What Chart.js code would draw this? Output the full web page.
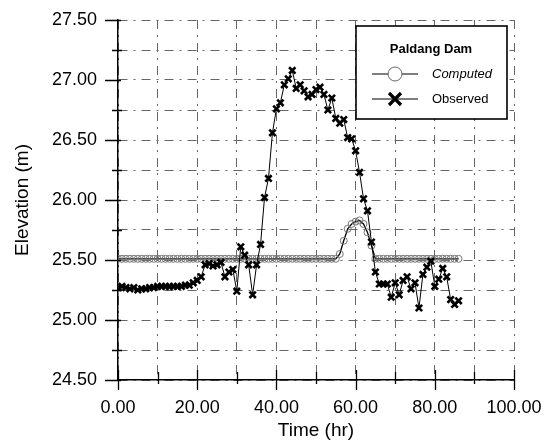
<!DOCTYPE html>
<html>
<head>
<meta charset="utf-8">
<script src="https://cdn.jsdelivr.net/npm/chart.js@4.4.1/dist/chart.umd.min.js"></script>
<style>
  html, body { margin: 0; padding: 0; background: #fff; }
  #wrap { width: 548px; height: 442px; }
</style>
</head>
<body>
<div id="wrap"><canvas id="myChart" width="548" height="442"></canvas></div>
<script>
// hours (hr)
var hours = [0,1,2,3,4,5,6,7,8,9,10,11,12,13,14,15,16,17,18,19,20,
  21,22,23,24,25,26,27,28,29,30,31,32,33,34,35,36,37,38,39,40,
  41,42,43,44,45,46,47,48,49,50,51,52,53,54,55,56,57,58,59,60,
  61,62,63,64,65,66,67,68,69,70,71,72,73,74,75,76,77,78,79,80,
  81,82,83,84,85,86];

// water level at Paldang Dam (m)
var computed = [25.51,25.51,25.51,25.51,25.51,25.51,25.51,25.51,25.51,25.51,25.51,
  25.51,25.51,25.51,25.51,25.51,25.51,25.51,25.51,25.51,25.51,
  25.51,25.51,25.51,25.51,25.51,25.51,25.51,25.51,25.51,25.51,
  25.51,25.51,25.51,25.51,25.51,25.51,25.51,25.51,25.51,25.51,
  25.51,25.51,25.51,25.51,25.51,25.51,25.51,25.51,25.51,25.51,
  25.51,25.51,25.51,25.51,25.51,25.55,25.66,25.76,25.80,25.82,
  25.83,25.80,25.73,25.62,25.51,25.51,25.51,25.51,25.51,25.51,
  25.51,25.51,25.51,25.51,25.51,25.51,25.51,25.51,25.51,25.51,
  25.51,25.51,25.51,25.51,25.51,25.51];

var observed = [25.27,25.28,25.27,25.26,25.27,25.25,25.26,25.26,25.27,25.27,25.28,
  25.28,25.28,25.28,25.28,25.28,25.28,25.29,25.29,25.31,25.33,
  25.36,25.46,25.47,25.45,25.46,25.48,25.36,25.40,25.42,25.24,
  25.61,25.54,25.46,25.21,25.46,25.63,26.02,26.18,26.56,26.76,
  26.81,26.96,27.01,27.08,26.93,26.96,26.91,26.86,26.88,26.92,
  26.94,26.88,26.75,26.85,26.68,26.64,26.67,26.52,26.51,26.41,
  26.23,26.01,25.91,25.65,25.40,25.30,25.30,25.30,25.19,25.31,
  25.21,25.33,25.36,25.26,25.31,25.10,25.38,25.44,25.49,25.28,
  25.34,25.43,25.36,25.17,25.13,25.16];

var xTicks = ["0.00","20.00","40.00","60.00","80.00","100.00"];
var yTicks = ["24.50","25.00","25.50","26.00","26.50","27.00","27.50"];

var fontName = "'Liberation Sans', Arial, sans-serif";

function pts(vals){
  var out = [];
  for (var i = 0; i < hours.length; i++) out.push({x: hours[i], y: vals[i]});
  return out;
}

// tick marks crossing the axes
var tickMarks = {
  id: 'tickMarks',
  afterDraw: function(chart){
    var ctx = chart.ctx, a = chart.chartArea, x = chart.scales.x, y = chart.scales.y;
    ctx.save();
    ctx.strokeStyle = '#000';
    ctx.lineWidth = 1.3;
    ctx.beginPath();
    x.ticks.forEach(function(t){
      var px = Math.round(x.getPixelForValue(t.value)) + 0.5;
      var major = Math.abs(t.value % 20) < 1e-6;
      ctx.moveTo(px, a.bottom - (major ? 10 : 8));
      ctx.lineTo(px, a.bottom + (major ? 10 : 4));
    });
    y.ticks.forEach(function(t){
      var py = Math.round(y.getPixelForValue(t.value)) + 0.5;
      var major = Math.abs(t.value * 2 - Math.round(t.value * 2)) < 1e-6;
      ctx.moveTo(a.left - (major ? 13 : 6), py);
      ctx.lineTo(a.left + (major ? 3 : 4), py);
    });
    ctx.stroke();
    ctx.restore();
  }
};

// boxed legend in the top right corner
var boxLegend = {
  id: 'boxLegend',
  afterDraw: function(chart){
    var ctx = chart.ctx;
    var bx = 356, by = 26, bw = 151, bh = 93;
    ctx.save();
    ctx.fillStyle = '#fff';
    ctx.fillRect(bx, by, bw, bh);
    ctx.strokeStyle = '#000';
    ctx.lineWidth = 1.6;
    ctx.strokeRect(bx, by, bw, bh);

    ctx.fillStyle = '#000';
    ctx.textBaseline = 'middle';
    ctx.textAlign = 'center';
    ctx.font = "bold 13px " + fontName;
    ctx.fillText('Paldang Dam', 431, 49);

    // computed row
    ctx.lineWidth = 1.2;
    ctx.beginPath();
    ctx.moveTo(372, 74); ctx.lineTo(418, 74);
    ctx.stroke();
    ctx.fillStyle = '#fff';
    ctx.strokeStyle = '#666';
    ctx.lineWidth = 1;
    ctx.beginPath();
    ctx.arc(395, 74, 7, 0, Math.PI * 2);
    ctx.fill(); ctx.stroke();

    // observed row
    ctx.strokeStyle = '#000';
    ctx.lineWidth = 1.2;
    ctx.beginPath();
    ctx.moveTo(372, 99); ctx.lineTo(418, 99);
    ctx.stroke();
    ctx.lineWidth = 3.2;
    ctx.beginPath();
    ctx.moveTo(389, 93); ctx.lineTo(401, 105);
    ctx.moveTo(401, 93); ctx.lineTo(389, 105);
    ctx.stroke();

    ctx.fillStyle = '#000';
    ctx.textAlign = 'left';
    ctx.font = "italic 13px " + fontName;
    ctx.fillText(chart.data.datasets[0].label, 432, 74);
    ctx.font = "13px " + fontName;
    ctx.fillText(chart.data.datasets[1].label, 432, 99);
    ctx.restore();
  }
};

var gridStyle = { color: '#666', lineWidth: 1, drawTicks: false };

var myChart = new Chart("myChart", {
  type: "line",
  data: {
    datasets: [
      {
        label: "Computed",
        data: pts(computed),
        order: 1,
        borderColor: '#000',
        borderWidth: 1.3,
        pointStyle: 'circle',
        pointRadius: 3.5,
        pointBorderWidth: 1,
        pointBorderColor: '#777',
        pointBackgroundColor: 'rgba(0,0,0,0)',
        tension: 0
      },
      {
        label: "Observed",
        data: pts(observed),
        order: 0,
        borderColor: '#000',
        borderWidth: 1,
        pointStyle: 'crossRot',
        pointRadius: 4.5,
        pointBorderWidth: 2.6,
        pointBorderColor: '#000',
        tension: 0
      }
    ]
  },
  options: {
    responsive: false,
    animation: false,
    devicePixelRatio: 1,
    layout: { padding: { left: 0, right: 34, top: 20, bottom: 0 } },
    plugins: {
      legend: { display: false },
      tooltip: { enabled: false }
    },
    scales: {
      x: {
        type: 'linear',
        min: 0, max: 100,
        afterFit: function(s){ s.height = 62; s.paddingLeft = 0; s.paddingRight = 0; },
        grid: gridStyle,
        border: { display: true, color: '#000', width: 1.5, dash: [9, 6, 2, 6] },
        ticks: {
          stepSize: 10,
          padding: 17,
          color: '#000',
          maxRotation: 0,
          autoSkip: false,
          font: { family: fontName, size: 18 },
          callback: function(v){
            var i = xTicks.indexOf(v.toFixed(2));
            return i >= 0 ? xTicks[i] : '';
          }
        },
        title: {
          display: true,
          text: 'Time (hr)',
          color: '#000',
          padding: { top: 0, bottom: 0 },
          font: { family: fontName, size: 19 }
        }
      },
      y: {
        type: 'linear',
        min: 24.5, max: 27.5,
        afterFit: function(s){ s.width = 118; s.paddingTop = 0; s.paddingBottom = 0; },
        grid: gridStyle,
        border: { display: true, color: '#000', width: 1.5, dash: [9, 6, 2, 6] },
        ticks: {
          stepSize: 0.25,
          padding: 21,
          color: '#000',
          autoSkip: false,
          font: { family: fontName, size: 18 },
          callback: function(v){
            var i = yTicks.indexOf(v.toFixed(2));
            return i >= 0 ? yTicks[i] : '';
          }
        },
        title: {
          display: true,
          text: 'Elevation (m)',
          color: '#000',
          padding: { top: 11, bottom: 0 },
          font: { family: fontName, size: 19 }
        }
      }
    }
  },
  plugins: [tickMarks, boxLegend]
});
</script>
</body>
</html>
